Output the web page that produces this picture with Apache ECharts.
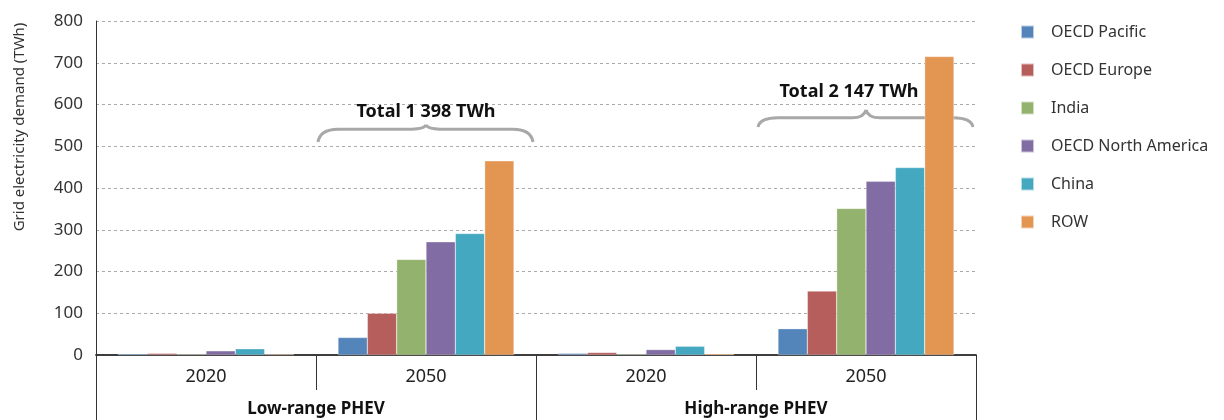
<!DOCTYPE html>
<html>
<head>
<meta charset="utf-8">
<script src="https://cdn.jsdelivr.net/npm/echarts@6/dist/echarts.min.js"></script>
<style>
    html, body { margin: 0; padding: 0; background: #fff; }
    #main { width: 1224px; height: 420px; }
</style>
</head>
<body>
<div id="main"></div>
<script>
// data
let years = ['2020', '2050', '2020', '2050'];
let groups = ['Low-range PHEV', 'High-range PHEV'];
let regions = ['OECD Pacific', 'OECD Europe', 'India', 'OECD North America', 'China', 'ROW'];
let oecdPacific = [3, 42, 4, 63];
let oecdEurope = [4, 100, 6, 153];
let india = [2, 229, 2, 351];
let oecdNorthAmerica = [10, 271, 13, 416];
let china = [15, 291, 21, 449];
let row = [2, 465, 3, 715];
let totals = ['Total 1 398 TWh', 'Total 2 147 TWh'];
// brace levels (value units): ends, bar, tip, label
let braceLevels = [[510, 541, 551, 582], [546, 568, 587, 630]];
let labelShift = [0, -17];

let colors = ['#5385BA', '#B65E5B', '#92B26D', '#816DA3', '#44A8C0', '#E39552'];
let values = [oecdPacific, oecdEurope, india, oecdNorthAmerica, china, row];
let font = 'Noto Sans';

let myChart = echarts.init(document.getElementById('main'));

let option = {
    animation: false,
    textStyle: { fontFamily: font },
    color: colors,
    grid: { left: 96, right: 248, top: 21, bottom: 65 },
    legend: {
        orient: 'vertical',
        left: 1015,
        top: 19,
        itemWidth: 13,
        itemHeight: 13,
        itemGap: 22,
        icon: 'rect',
        textStyle: { fontSize: 16, color: '#333', fontFamily: font, padding: [0, 0, 0, 12] },
        data: regions
    },
    xAxis: [{
        type: 'category',
        data: years,
        position: 'bottom',
        axisLine: { lineStyle: { color: '#333', width: 1.5 } },
        axisTick: { show: true, interval: 0, length: 35, lineStyle: { color: '#333' } },
        axisLabel: { fontSize: 18, color: '#222', margin: 13 }
    }, {
        type: 'category',
        data: groups,
        position: 'bottom',
        axisLine: { lineStyle: { color: '#333', width: 1.5 } },
        axisTick: { show: true, interval: 0, length: 66, lineStyle: { color: '#333' } },
        axisLabel: { fontSize: 17, fontWeight: 'bold', color: '#111', margin: 46 }
    }],
    yAxis: {
        type: 'value',
        min: 0,
        max: 800,
        interval: 100,
        name: 'Grid electricity demand (TWh)',
        nameLocation: 'middle',
        nameRotate: 90,
        nameGap: 69,
        nameTextStyle: { fontSize: 15, color: '#333', padding: [0, 0, 0, 122] },
        axisLine: { show: true, lineStyle: { color: '#333' } },
        axisTick: { show: false },
        axisLabel: { fontSize: 17, color: '#333', margin: 13 },
        splitLine: { lineStyle: { color: '#aaa', type: [3, 3] } }
    },
    series: regions.map(function (name, i) {
        return {
            name: name,
            type: 'bar',
            xAxisIndex: 0,
            barGap: '0%',
            barCategoryGap: '20%',
            itemStyle: { color: colors[i], borderColor: 'rgba(255,255,255,0.6)', borderWidth: 0.5 },
            data: values[i]
        };
    })
};

myChart.setOption(option);

// curly braces and totals above the 2050 groups
function brace(ci, k) {
    let lv = braceLevels[k];
    let left = myChart.convertToPixel({ xAxisIndex: 0 }, ci);
    let step = myChart.convertToPixel({ xAxisIndex: 0 }, 1) - myChart.convertToPixel({ xAxisIndex: 0 }, 0);
    let x0 = left - step / 2 + 2, x1 = left + step / 2 - 3, xc = left;
    let yE = myChart.convertToPixel({ yAxisIndex: 0 }, lv[0]);
    let yM = myChart.convertToPixel({ yAxisIndex: 0 }, lv[1]);
    let yT = myChart.convertToPixel({ yAxisIndex: 0 }, lv[2]);
    let yL = myChart.convertToPixel({ yAxisIndex: 0 }, lv[3]);
    let st = { stroke: '#A8A8A8', lineWidth: 3, fill: null };
    return [
        { type: 'bezierCurve', shape: { x1: x0, y1: yE, x2: x0 + 20, y2: yM, cpx1: x0 + 2, cpy1: yM }, style: st },
        { type: 'line', shape: { x1: x0 + 20, y1: yM, x2: xc - 14, y2: yM }, style: st },
        { type: 'bezierCurve', shape: { x1: xc - 14, y1: yM, x2: xc, y2: yT, cpx1: xc - 2, cpy1: yM }, style: st },
        { type: 'bezierCurve', shape: { x1: xc, y1: yT, x2: xc + 14, y2: yM, cpx1: xc + 2, cpy1: yM }, style: st },
        { type: 'line', shape: { x1: xc + 14, y1: yM, x2: x1 - 20, y2: yM }, style: st },
        { type: 'bezierCurve', shape: { x1: x1 - 20, y1: yM, x2: x1, y2: yE, cpx1: x1 - 2, cpy1: yM }, style: st },
        {
            type: 'text', x: xc + labelShift[k], y: yL,
            style: {
                text: totals[k], fontSize: 18, fontWeight: 'bold', fontFamily: font,
                fill: '#111', align: 'center', verticalAlign: 'middle'
            }
        }
    ];
}

myChart.setOption({
    graphic: brace(1, 0).concat(brace(3, 1))
});
</script>
</body>
</html>
